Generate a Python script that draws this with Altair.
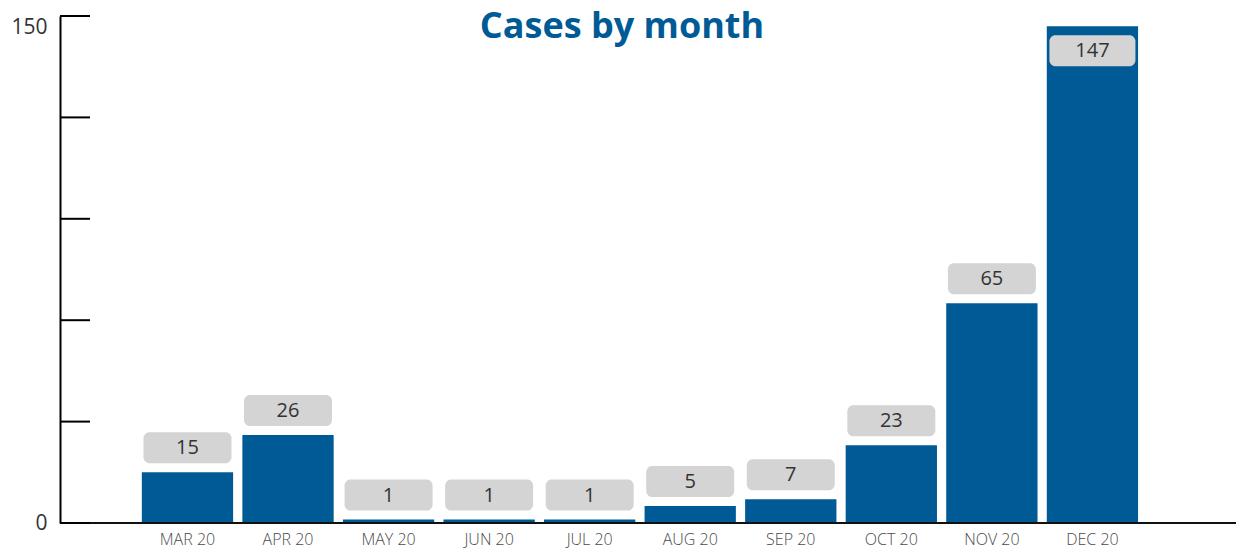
import altair as alt
import pandas as pd

months = ["MAR 20", "APR 20", "MAY 20", "JUN 20", "JUL 20", "AUG 20", "SEP 20", "OCT 20", "NOV 20", "DEC 20"]
cases = [15, 26, 1, 1, 1, 5, 7, 23, 65, 147]
y_ticks = [0, 30, 60, 90, 120, 150]

df = pd.DataFrame({"month": months, "cases": cases})
ticks_df = pd.DataFrame({"t": y_ticks})

W, H = 1176, 507
BLUE = "#005a96"
FONT = "Open Sans"

xscale = alt.Scale(domain=months, range=[77.2, 1082.7], paddingInner=0.092, paddingOuter=0.046)
yscale = alt.Scale(domain=[0, 150], nice=False)

x_enc = alt.X("month:N", scale=xscale, sort=months,
              axis=alt.Axis(title=None, domain=False, ticks=False, labelAngle=0,
                            labelFont=FONT, labelFontSize=16, labelFontWeight=300,
                            labelColor="#4a4a4a", labelPadding=8))
y_enc = alt.Y("cases:Q", scale=yscale,
              axis=alt.Axis(title=None, values=[0, 150], grid=False, ticks=False,
                            domainColor="#000000", domainWidth=2,
                            labelFont=FONT, labelFontSize=21, labelColor="#333333",
                            labelPadding=13,
                            labelBaseline=alt.ExprRef(expr="datum.value == 150 ? 'top' : 'middle'")))

bars = alt.Chart(df).mark_bar(color=BLUE).encode(x=x_enc, y=y_enc)

tick_rules = alt.Chart(ticks_df).mark_rule(color="#000000", strokeWidth=2).encode(
    y=alt.Y("t:Q", scale=yscale),
    x=alt.value(0), x2=alt.value(30)
)

baseline = alt.Chart(ticks_df).transform_filter("datum.t == 0").mark_rule(
    color="#111111", strokeWidth=2).encode(
    y=alt.Y("t:Q", scale=yscale),
    x=alt.value(0), x2=alt.value(W)
)

above = df[df.cases < 140]
inside = df[df.cases >= 140]

box_above = alt.Chart(above).mark_bar(color="#d4d4d4", cornerRadius=6, width=88,
                                      yOffset=-40, y2Offset=-9).encode(
    x=alt.X("month:N", scale=xscale, sort=months),
    y=alt.Y("cases:Q", scale=yscale), y2="cases:Q")
txt_above = alt.Chart(above).mark_text(font=FONT, fontSize=20, color="#333333",
                                       baseline="middle", dy=-24).encode(
    x=alt.X("month:N", scale=xscale, sort=months),
    y=alt.Y("cases:Q", scale=yscale), text="cases:Q")

box_inside = alt.Chart(inside).mark_bar(color="#d4d4d4", cornerRadius=6, width=86,
                                        yOffset=9, y2Offset=40).encode(
    x=alt.X("month:N", scale=xscale, sort=months),
    y=alt.Y("cases:Q", scale=yscale), y2="cases:Q")
txt_inside = alt.Chart(inside).mark_text(font=FONT, fontSize=20, color="#333333",
                                         baseline="middle", dy=25).encode(
    x=alt.X("month:N", scale=xscale, sort=months),
    y=alt.Y("cases:Q", scale=yscale), text="cases:Q")

chart = alt.layer(bars, baseline, tick_rules, box_above, txt_above, box_inside, txt_inside).properties(
    width=W, height=H,
    autosize=alt.AutoSizeParams(type="none"),
    padding={"left": 52, "top": 8, "right": 0, "bottom": 27},
    title=alt.TitleParams("Cases by month", anchor="middle", font=FONT, fontSize=36,
                          fontWeight="bold", color=BLUE, dx=-26, offset=-31, baseline="top"),
).configure_view(stroke=None)

chart.save("out.html", embed_options={"renderer": "svg", "actions": False})
